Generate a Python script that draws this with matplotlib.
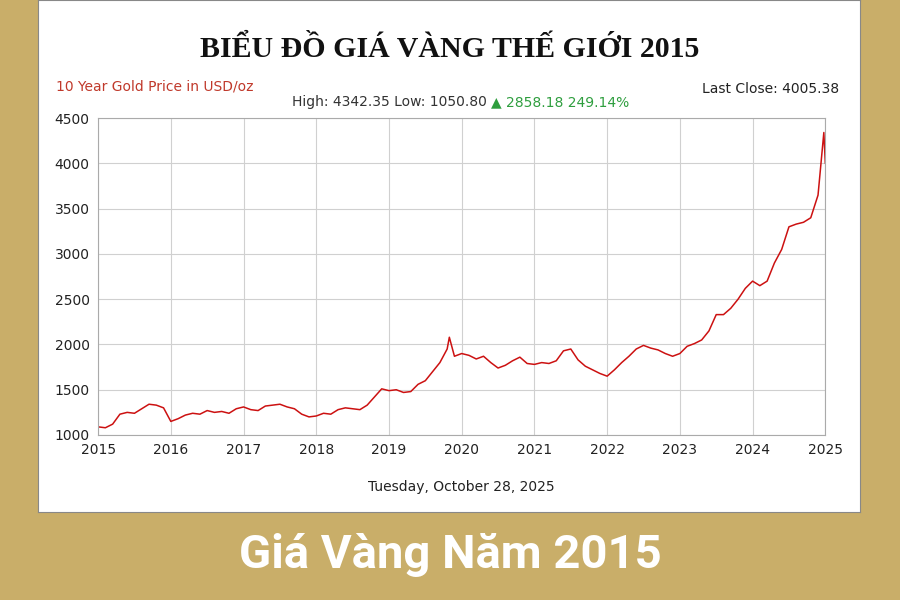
import matplotlib
matplotlib.use("Agg")
import matplotlib.pyplot as plt

years = [2015.0,2015.1,2015.2,2015.3,2015.4,2015.5,2015.6,2015.7,2015.8,2015.9,
         2016.0,2016.1,2016.2,2016.3,2016.4,2016.5,2016.6,2016.7,2016.8,2016.9,
         2017.0,2017.1,2017.2,2017.3,2017.4,2017.5,2017.6,2017.7,2017.8,2017.9,
         2018.0,2018.1,2018.2,2018.3,2018.4,2018.5,2018.6,2018.7,2018.8,2018.9,
         2019.0,2019.1,2019.2,2019.3,2019.4,2019.5,2019.6,2019.7,2019.8,2019.83,2019.9,
         2020.0,2020.1,2020.2,2020.3,2020.4,2020.5,2020.6,2020.7,2020.8,2020.9,
         2021.0,2021.1,2021.2,2021.3,2021.4,2021.5,2021.6,2021.7,2021.8,2021.9,
         2022.0,2022.1,2022.2,2022.3,2022.4,2022.5,2022.6,2022.7,2022.8,2022.9,
         2023.0,2023.1,2023.2,2023.3,2023.4,2023.5,2023.6,2023.7,2023.8,2023.9,
         2024.0,2024.1,2024.2,2024.3,2024.4,2024.5,2024.6,2024.7,2024.8,2024.9,2024.98,2025.0]
prices = [1090,1080,1120,1230,1250,1240,1290,1340,1330,1300,
          1150,1180,1220,1240,1230,1270,1250,1260,1240,1290,
          1310,1280,1270,1320,1330,1340,1310,1290,1230,1200,
          1210,1240,1230,1280,1300,1290,1280,1330,1420,1510,
          1490,1500,1470,1480,1560,1600,1700,1800,1950,2080,1870,
          1900,1880,1840,1870,1800,1740,1770,1820,1860,1790,
          1780,1800,1790,1820,1930,1950,1830,1760,1720,1680,
          1650,1720,1800,1870,1950,1990,1960,1940,1900,1870,
          1900,1980,2010,2050,2150,2330,2330,2400,2500,2620,
          2700,2650,2700,2900,3050,3300,3330,3350,3400,3650,4342,4005]
xticks = list(range(2015, 2026))
yticks = [1000,1500,2000,2500,3000,3500,4000,4500]

fig = plt.figure(figsize=(9,6), dpi=100)
fig.patch.set_facecolor("#c9ae69")
panel = fig.add_axes([0.042,0.147,0.913,0.853])
panel.set_xticks([]); panel.set_yticks([])
for s in panel.spines.values():
    s.set_color("#888888")
ax = fig.add_axes([0.109,0.275,0.808,0.528])
ax.plot(years, prices, color="#cc1111", lw=1.1)
ax.set_xlim(2015,2025); ax.set_ylim(1000,4500)
ax.set_xticks(xticks); ax.set_yticks(yticks)
ax.grid(True, color="#d0d0d0", lw=0.8)
ax.tick_params(labelsize=10, colors="#222222", length=0, pad=6)
for s in ax.spines.values():
    s.set_color("#aaaaaa")

fig.text(0.5,0.917,"BIỂU ĐỒ GIÁ VÀNG THẾ GIỚI 2015", ha="center", va="center",
         family="Liberation Serif", weight="bold", fontsize=21.5, color="#111111")
fig.text(0.062,0.855,"10 Year Gold Price in USD/oz", color="#c0392b", fontsize=10, va="center")
fig.text(0.932,0.852,"Last Close: 4005.38", color="#222222", fontsize=10, va="center", ha="right")
fig.text(0.546,0.83,"High: 4342.35 Low: 1050.80 ", color="#333333", fontsize=10, va="center", ha="right")
fig.text(0.546,0.83,"▲ 2858.18 249.14%", color="#2e9e3e", fontsize=10, va="center", ha="left")
fig.text(0.513,0.188,"Tuesday, October 28, 2025", color="#222222", fontsize=10, ha="center", va="center")
fig.text(0.5,0.075,"Giá Vàng Năm 2015", color="white", fontsize=34, weight="bold",
         family="Roboto", ha="center", va="center", stretch="condensed")
fig.savefig("out.png", facecolor=fig.get_facecolor())
